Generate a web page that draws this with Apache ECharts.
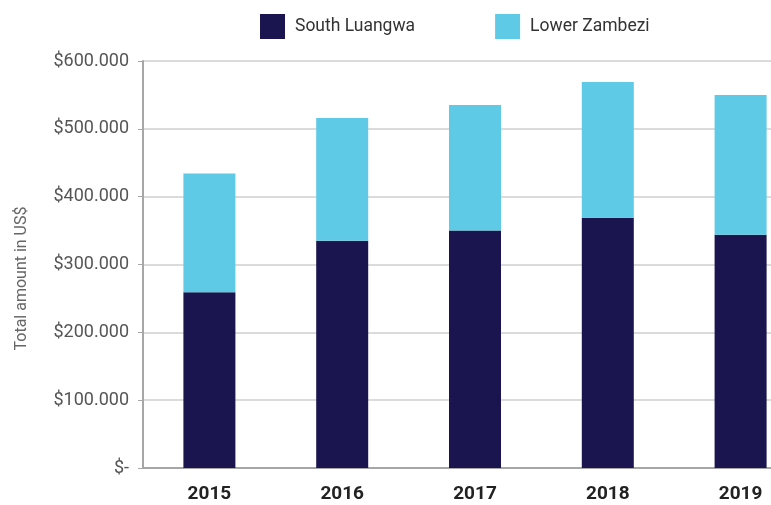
<!DOCTYPE html>
<html><head><meta charset="utf-8">
<script src="https://cdn.jsdelivr.net/npm/echarts@6/dist/echarts.min.js"></script>
<style>html,body{margin:0;padding:0;background:#fff}#c{width:771px;height:505px}</style>
</head><body><div id="c"></div>
<script>
const categories = ['2015','2016','2017','2018','2019'];
const southLuangwa = [259000, 335000, 350000, 369000, 344000];
const lowerZambezi = [175000, 181000, 185000, 200000, 206000];
const yTicks = [0, 100000, 200000, 300000, 400000, 500000, 600000];

const chart = echarts.init(document.getElementById('c'));
chart.setOption({
  animation: false,
  textStyle: {fontFamily: 'Roboto'},
  legend: {
    top: 14, left: 260, padding: 0, itemGap: 80, itemWidth: 25, itemHeight: 25,
    icon: 'rect',
    textStyle: {fontSize: 17.5, color: '#333', fontFamily: 'Roboto', padding: [0,0,0,5]},
    data: ['South Luangwa', 'Lower Zambezi']
  },
  grid: {left: 143, top: 61, width: 664, height: 407, containLabel: false, outerBoundsMode: 'none'},
  xAxis: {
    type: 'category', data: categories,
    axisLine: {lineStyle: {color: '#a6a6a6', width: 2}},
    axisTick: {show: false},
    axisLabel: {margin: 17, fontSize: 19, fontWeight: 'bold', color: '#222', fontFamily: 'Roboto'}
  },
  yAxis: {
    type: 'value', min: yTicks[0], max: yTicks[yTicks.length-1], interval: 100000,
    name: 'Total amount in US$', nameLocation: 'middle', nameGap: 113, nameRotate: 90,
    nameTextStyle: {fontSize: 16, color: '#666', fontFamily: 'Roboto', padding: [0,0,0,-28]},
    axisLine: {show: true, lineStyle: {color: '#a6a6a6', width: 2}},
    axisTick: {show: true, length: 5, lineStyle: {color: '#a6a6a6'}},
    axisLabel: {margin: 14, fontSize: 18, color: '#555', fontFamily: 'Roboto',
      formatter: v => v === 0 ? '$-' : '$' + (v/1000) + '.000'},
    splitLine: {lineStyle: {color: '#cfcfcf', width: 1.5}}
  },
  series: [
    {name: 'South Luangwa', type: 'bar', stack: 't', barWidth: 52, data: southLuangwa,
     itemStyle: {color: '#1b154f'}},
    {name: 'Lower Zambezi', type: 'bar', stack: 't', barWidth: 52, data: lowerZambezi,
     itemStyle: {color: '#5ecae6'}}
  ]
});
</script></body></html>
